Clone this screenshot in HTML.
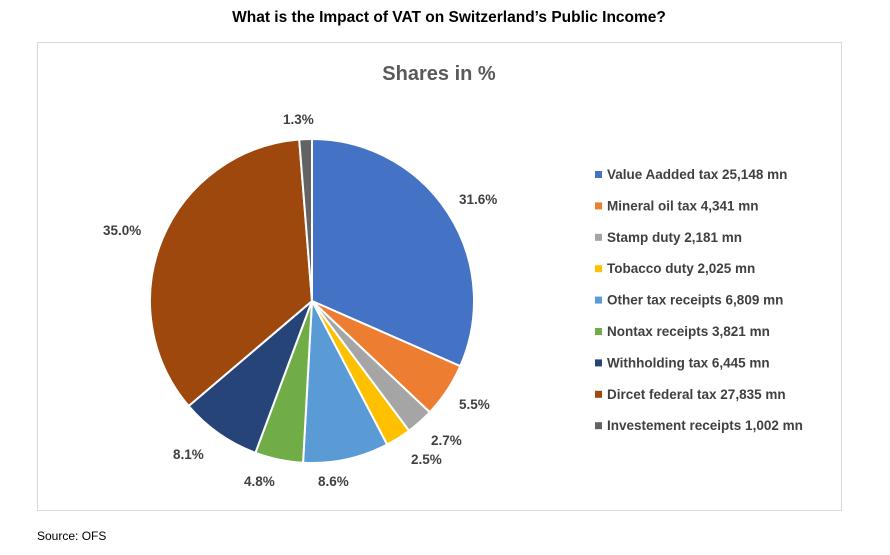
<!DOCTYPE html>
<html><head><meta charset="utf-8"><style>
body{margin:0;background:#fff;width:890px;height:550px;overflow:hidden;font-family:"Liberation Sans",sans-serif}
</style></head><body>
<svg id="s" width="890" height="550" xmlns="http://www.w3.org/2000/svg" font-family="Liberation Sans, sans-serif">
<text x="449" y="22" text-anchor="middle" font-size="15.5" font-weight="bold" fill="#000">What is the Impact of VAT on Switzerland’s Public Income?</text>
<rect x="37.5" y="42.5" width="804" height="468" fill="#fff" stroke="#d9d9d9"/>
<text x="439" y="80" text-anchor="middle" font-size="20" font-weight="bold" fill="#595959">Shares in %</text>
<g id="pie"></g>
<g font-size="13.5" font-weight="bold" fill="#404040">
<text x="459" y="204">31.6%</text>
<text x="459" y="409">5.5%</text>
<text x="431" y="445">2.7%</text>
<text x="411" y="464">2.5%</text>
<text x="318" y="486">8.6%</text>
<text x="244" y="486">4.8%</text>
<text x="173" y="459">8.1%</text>
<text x="103" y="235">35.0%</text>
<text x="283" y="124">1.3%</text>
</g>
<g id="leg" font-size="13.5" font-weight="bold" fill="#404040"></g>
<text x="37" y="540" font-size="12" fill="#000">Source: OFS</text>
</svg>
<script>
var v=[25148,4341,2181,2025,6809,3821,6445,27835,1002];
var c=["#4472C4","#ED7D31","#A5A5A5","#FFC000","#5B9BD5","#70AD47","#264478","#9E480E","#636363"];
var n=["Value Aadded tax 25,148 mn","Mineral oil tax 4,341 mn","Stamp duty 2,181 mn","Tobacco duty 2,025 mn","Other tax receipts 6,809 mn","Nontax receipts 3,821 mn","Withholding tax 6,445 mn","Dircet federal tax 27,835 mn","Investement receipts 1,002 mn"];
var t=v.reduce(function(a,b){return a+b},0),cx=312,cy=301,r=162,a=0,h="",l="";
for(var i=0;i<v.length;i++){var b=a+v[i]/t*2*Math.PI;
var x1=cx+r*Math.sin(a),y1=cy-r*Math.cos(a),x2=cx+r*Math.sin(b),y2=cy-r*Math.cos(b);
h+='<path d="M'+cx+' '+cy+'L'+x1+' '+y1+'A'+r+' '+r+' 0 '+((b-a)>Math.PI?1:0)+' 1 '+x2+' '+y2+'Z" fill="'+c[i]+'" stroke="#fff" stroke-width="2" stroke-linejoin="round"/>';
a=b;
var y=179+i*31.4;
l+='<rect x="595" y="'+(y-8)+'" width="7" height="7" fill="'+c[i]+'"/><text x="607" y="'+(y)+'">'+n[i]+'</text>';}
document.getElementById("pie").innerHTML=h;document.getElementById("leg").innerHTML=l;
</script>
</body></html>
